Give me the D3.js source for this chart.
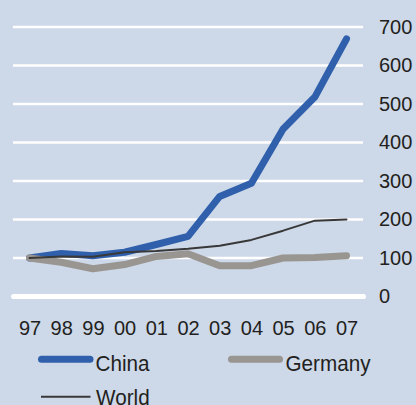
<!DOCTYPE html>
<html>
<head>
<meta charset="utf-8">
<script src="https://cdn.jsdelivr.net/npm/d3@7"></script>
<style>
  html, body { margin: 0; padding: 0; background: #cdd8e8; }
  svg { display: block; }
  text { font-family: "Liberation Sans", Arial, sans-serif; fill: #231f20; }
</style>
</head>
<body>
<svg id="chart" width="416" height="405"></svg>
<script>
// Index, 1997 = 100
const years = ["97", "98", "99", "00", "01", "02", "03", "04", "05", "06", "07"];
const china = [100, 112, 106, 115, 135, 156, 260, 294, 435, 518, 669];
const germany = [100, 89, 72, 83, 104, 111, 80, 80, 100, 101, 106];
const world = [100, 104, 103, 115, 118, 124, 132, 147, 171, 197, 200];
const yTicks = [0, 100, 200, 300, 400, 500, 600, 700];

const svg = d3.select("#chart");

const x = d3.scalePoint().domain(years).range([29.5, 346.5]);
const y = d3.scaleLinear().domain([0, 700]).range([296.5, 27]);

// horizontal gridlines; the zero line is heavier with rounded ends
svg.append("g")
  .selectAll("line")
  .data(yTicks)
  .join("line")
  .attr("x1", d => d === 0 ? 13.5 : 13)
  .attr("x2", d => d === 0 ? 363.5 : 363)
  .attr("y1", d => y(d))
  .attr("y2", d => y(d))
  .attr("stroke", "#ffffff")
  .attr("stroke-width", d => d === 0 ? 5 : 2.6)
  .attr("stroke-linecap", d => d === 0 ? "round" : "butt");

// right-hand value axis
const yAxis = svg.append("g")
  .attr("transform", "translate(379,0)")
  .call(d3.axisRight(y).tickValues(yTicks).tickSize(0).tickPadding(0).tickFormat(d3.format("d")));
yAxis.select(".domain").remove();
yAxis.selectAll("text")
  .attr("text-anchor", "start")
  .style("font-size", "20px")
  .style("font-family", "'Liberation Sans', Arial, sans-serif")
  .attr("fill", "#231f20");

// year axis
const xAxis = svg.append("g")
  .attr("transform", "translate(0,320.5)")
  .call(d3.axisBottom(x).tickSize(0).tickPadding(0));
xAxis.select(".domain").remove();
xAxis.selectAll("text")
  .attr("dy", "0.71em")
  .style("font-size", "20px")
  .style("font-family", "'Liberation Sans', Arial, sans-serif")
  .attr("fill", "#231f20");

const line = d3.line().x((d, i) => x(years[i])).y(d => y(d));

const series = [
  { name: "China", values: china, color: "#3060ac", width: 7 },
  { name: "Germany", values: germany, color: "#999591", width: 7 },
  { name: "World", values: world, color: "#383838", width: 2 }
];

svg.append("g")
  .selectAll("path")
  .data(series)
  .join("path")
  .attr("d", d => line(d.values))
  .attr("fill", "none")
  .attr("stroke", d => d.color)
  .attr("stroke-width", d => d.width)
  .attr("stroke-linecap", "round")
  .attr("stroke-linejoin", "round");

// legend: swatch start, swatch end, text start, line y, text baseline
const legendPos = [
  { x1: 41.5, x2: 90, tx: 95.5, ly: 359.2, ty: 370.5 },
  { x1: 231.5, x2: 279.5, tx: 285.5, ly: 359.2, ty: 370.5 },
  { x1: 41, x2: 90.5, tx: 96, ly: 396.8, ty: 404.5 }
];
const legend = svg.append("g")
  .selectAll("g")
  .data(series)
  .join("g");
legend.append("line")
  .attr("x1", (d, i) => legendPos[i].x1)
  .attr("x2", (d, i) => legendPos[i].x2)
  .attr("y1", (d, i) => legendPos[i].ly)
  .attr("y2", (d, i) => legendPos[i].ly)
  .attr("stroke", d => d.color)
  .attr("stroke-width", d => d.width)
  .attr("stroke-linecap", d => d.width > 3 ? "round" : "butt");
legend.append("text")
  .attr("transform", (d, i) => `translate(${legendPos[i].tx},${legendPos[i].ty}) scale(0.92,1)`)
  .style("font-size", "22.5px")
  .text(d => d.name);
</script>
</body>
</html>
